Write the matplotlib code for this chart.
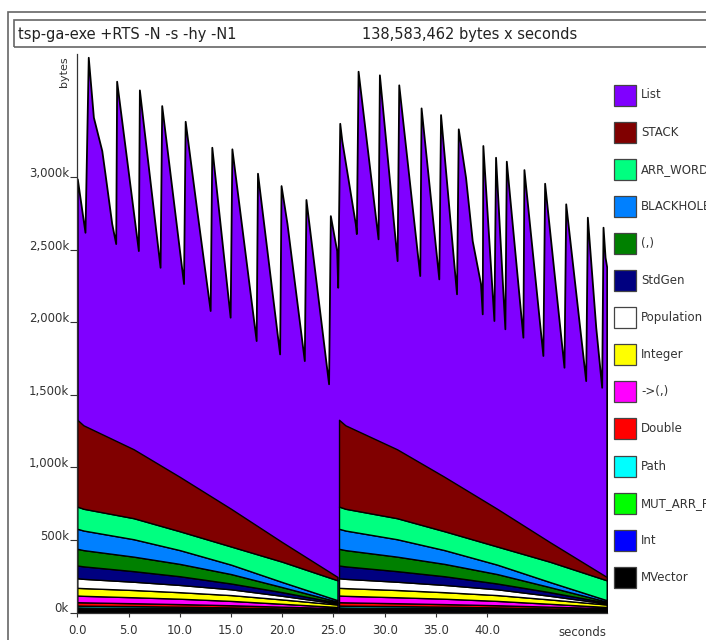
import matplotlib
matplotlib.use("Agg")
import matplotlib.pyplot as plt
from matplotlib.patches import Rectangle

plt.rcParams["font.family"] = ["DejaVu Sans"]

# total heap (top of the List band), kilobytes
list_t = [0, 0.75, 1.07, 1.57, 2.39, 2.70, 3.36, 3.75, 3.84, 5.96, 6.06, 8.08, 8.24,
          10.37, 10.53, 11.67, 12.97, 13.13, 14.92, 15.09, 17.46, 17.59, 19.75, 19.89,
          20.47, 22.16, 22.32, 24.53, 24.70, 25.32, 25.42,
          25.62, 25.82, 27.14, 27.24, 27.41, 29.36, 29.49, 31.22, 31.38, 33.43, 33.56,
          35.29, 35.46, 37.02, 37.19, 37.90, 38.55, 39.36, 39.53, 39.59, 40.67, 40.83,
          41.74, 41.88, 43.50, 43.60, 45.45, 45.62, 47.51, 47.68, 49.63, 49.79, 50.61,
          51.19, 51.32, 51.52, 51.68]
list_top = [2988, 2620, 3826, 3413, 3183, 3025, 2680, 2542, 3661, 2494, 3601, 2379, 3493,
            2267, 3385, 2768, 2081, 3206, 2035, 3195, 1874, 3027, 1782, 2942,
            2680, 1736, 2846, 1576, 2735, 2494, 2241,
            3371, 3252, 2678, 2611, 3730, 2575, 3705, 2425, 3636, 2322, 3477,
            2299, 3431, 2196, 3333, 2999, 2563, 2267, 2058, 3218, 2012, 3137,
            1955, 3110, 1897, 3052, 1771, 2958, 1690, 2816, 1598, 2724, 1966,
            1552, 2655, 2448, 2380]

# lower bands, sampled along each run (same shape in both runs)
run1_t = [0, 0.6, 5.5, 10, 15, 20, 25.4]
run2_t = [25.55, 26.17, 31.21, 35.84, 40.98, 46.13, 51.68]

band_names = ["MVector", "Int", "MUT_ARR_PTRS_CLEAN", "Path", "Double", "->(,)", "Integer",
              "Population", "StdGen", "(,)", "BLACKHOLE", "ARR_WORDS", "STACK"]
band_colors = ["#000000", "#0000ff", "#00ff00", "#00ffff", "#ff0000", "#ff00ff", "#ffff00",
               "#ffffff", "#000080", "#008000", "#0080ff", "#00ff80", "#800000"]
band_vals = [
    [15, 15, 14, 13, 11, 9, 8],
    [10, 9, 9, 8, 7, 6, 5],
    [10, 10, 9, 9, 8, 7, 5],
    [13, 13, 12, 10, 9, 6, 5],
    [23, 23, 20, 18, 15, 12, 7],
    [46, 45, 41, 37, 30, 20, 8],
    [53, 53, 50, 45, 40, 30, 17],
    [66, 64, 57, 50, 40, 25, 7],
    [88, 86, 73, 60, 40, 25, 6],
    [115, 112, 100, 85, 65, 35, 7],
    [138, 135, 120, 95, 65, 35, 10],
    [153, 150, 145, 130, 125, 140, 137],
    [598, 575, 475, 375, 260, 135, 23],
]

legend_names = ["List", "STACK", "ARR_WORDS", "BLACKHOLE", "(,)", "StdGen", "Population",
                "Integer", "->(,)", "Double", "Path", "MUT_ARR_PTRS_CLEAN", "Int", "MVector"]
legend_colors = ["#8000ff", "#800000", "#00ff80", "#0080ff", "#008000", "#000080", "#ffffff",
                 "#ffff00", "#ff00ff", "#ff0000", "#00ffff", "#00ff00", "#0000ff", "#000000"]

yticks = [0, 500, 1000, 1500, 2000, 2500, 3000]
xticks = [0, 5, 10, 15, 20, 25, 30, 35, 40]

W, H = 706, 640
fig = plt.figure(figsize=(W / 100, H / 100), dpi=100)


def fx(x):
    return x / W


def fy(y):
    return 1 - y / H


# frames
fig.patches.append(Rectangle((fx(7.5), fy(700)), fx(750), fy(11.7) - fy(700),
                             transform=fig.transFigure, fill=False, ec="#666666", lw=1.2))
fig.patches.append(Rectangle((fx(13.5), fy(46.5)), fx(750), fy(20) - fy(46.5),
                             transform=fig.transFigure, fill=False, ec="#666666", lw=1.2))
fig.text(fx(18), fy(34), "tsp-ga-exe +RTS -N -s -hy -N1", fontsize=10.5, color="#222222",
         va="center", ha="left")
fig.text(fx(362), fy(34), "138,583,462 bytes x seconds", fontsize=10.5, color="#222222",
         va="center", ha="left")

x0, x1 = 77.3, 606.7
yb, yt = 612.5, 53.8
ax = fig.add_axes([fx(x0), fy(yb), fx(x1) - fx(x0), fy(yt) - fy(yb)])
ax.set_xlim(0, 51.68)
ax.set_ylim(0, 3850)

ax.fill_between(list_t, 0, list_top, facecolor="#8000ff", edgecolor="black", lw=1.3, zorder=1)
ax.stackplot(run1_t, band_vals, colors=band_colors, edgecolor="black", lw=1.0, zorder=2)
ax.stackplot(run2_t, band_vals, colors=band_colors, edgecolor="black", lw=1.0, zorder=2)

for s in ["top", "right"]:
    ax.spines[s].set_visible(False)
for s in ["left", "bottom"]:
    ax.spines[s].set_color("#333333")
    ax.spines[s].set_linewidth(0.9)

ax.set_yticks(yticks)
ax.set_yticklabels(["0k", "500k", "1,000k", "1,500k", "2,000k", "2,500k", "3,000k"])
ax.set_xticks(xticks)
ax.set_xticklabels(["%.1f" % v for v in xticks])
ax.tick_params(axis="y", length=5, width=0.8, pad=1, labelsize=8.5, colors="#333333",
               labelcolor="#333333")
ax.tick_params(axis="x", length=3, width=0.8, pad=5, labelsize=8.5, colors="#333333",
               labelcolor="#333333")
for lbl in ax.get_yticklabels():
    lbl.set_va("baseline")

ax.annotate("seconds", xy=(1, 0), xycoords="axes fraction", xytext=(0, -13),
            textcoords="offset pixels", ha="right", va="top", fontsize=8.5, color="#333333")
ax.annotate("bytes", xy=(0, 1), xycoords="axes fraction", xytext=(-13, -3),
            textcoords="offset pixels", ha="center", va="top", rotation=90,
            fontsize=8, color="#333333")

# legend (labels run past the right edge, as in the original)
for i, (name, col) in enumerate(zip(legend_names, legend_colors)):
    cy = 95 + i * 37.1
    fig.patches.append(Rectangle((fx(614), fy(cy + 10.5)), fx(22), fy(cy - 10.5) - fy(cy + 10.5),
                                 transform=fig.transFigure, fc=col, ec="#444444", lw=0.9))
    fig.text(fx(641), fy(cy), name, fontsize=8.5, color="#333333", va="center", ha="left")

fig.savefig("out.png", dpi=100)
